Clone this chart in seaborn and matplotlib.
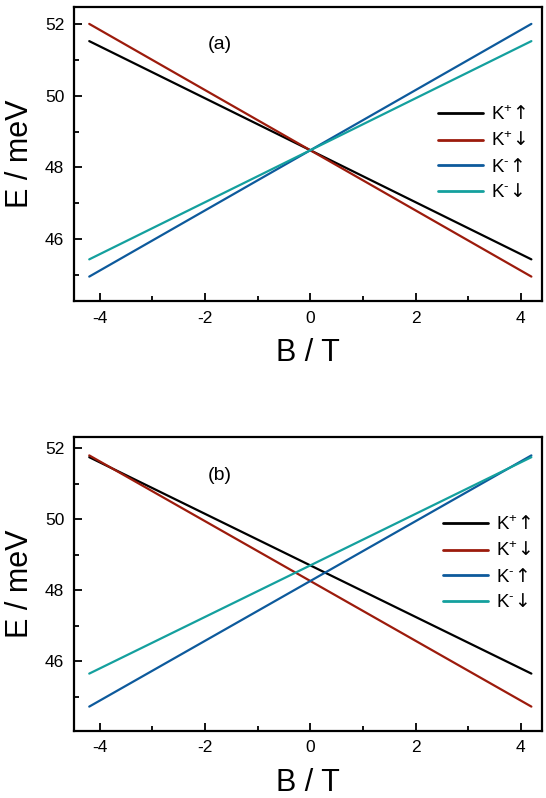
import matplotlib
matplotlib.use("Agg")
import matplotlib.pyplot as plt
import seaborn as sns
import pandas as pd
from matplotlib.ticker import MultipleLocator

# Magnetic field sweep (end points of each linear Zeeman branch)
field_T = [-4.2, 4.2]

# Panel (a): energies in meV at the two field end points
a_kp_up = [51.52, 45.44]
a_kp_dn = [52.00, 44.96]
a_km_up = [44.96, 52.00]
a_km_dn = [45.44, 51.52]

# Panel (b)
b_kp_up = [51.75, 45.65]
b_kp_dn = [51.80, 44.72]
b_km_up = [44.72, 51.80]
b_km_dn = [45.65, 51.75]

state_labels = [r"K$^{+}\!\mathsf{\uparrow}$", r"K$^{+}\!\mathsf{\downarrow}$",
                r"K$^{\text{-}}\!\mathsf{\uparrow}$", r"K$^{\text{-}}\!\mathsf{\downarrow}$"]
state_colors = ["#000000", "#9c1b0c", "#0d5a9c", "#14a09e"]
panel_tags = ["(a)", "(b)"]

sns.set_theme(style="ticks")
plt.rcParams["font.family"] = ["Liberation Sans", "DejaVu Sans"]
plt.rcParams["mathtext.fontset"] = "custom"
plt.rcParams["mathtext.rm"] = "Liberation Sans"
plt.rcParams["mathtext.it"] = "Liberation Sans"
plt.rcParams["mathtext.sf"] = "DejaVu Sans"
plt.rcParams["mathtext.default"] = "regular"
plt.rcParams["axes.unicode_minus"] = False
plt.rcParams["text.color"] = "black"
plt.rcParams["axes.labelcolor"] = "black"
plt.rcParams["xtick.color"] = "black"
plt.rcParams["ytick.color"] = "black"


def long_frame(series):
    rows = []
    for label, values in zip(state_labels, series):
        for b, e in zip(field_T, values):
            rows.append({"B": b, "E": e, "state": label})
    return pd.DataFrame(rows)


frames = [
    long_frame([a_kp_up, a_kp_dn, a_km_up, a_km_dn]),
    long_frame([b_kp_up, b_kp_dn, b_km_up, b_km_dn]),
]

fig = plt.figure(figsize=(5.46, 7.98), dpi=100)
ax_a = fig.add_axes([0.1355, 0.6228, 0.857, 0.3684])
ax_b = fig.add_axes([0.1355, 0.0843, 0.857, 0.3677])

settings = [
    (ax_a, frames[0], (44.28, 52.47), (0.777, 0.503)),
    (ax_b, frames[1], (44.04, 52.31), (0.788, 0.571)),
]

for (ax, df, ylim, leg_anchor), tag in zip(settings, panel_tags):
    sns.lineplot(data=df, x="B", y="E", hue="state", hue_order=state_labels,
                 palette=state_colors, linewidth=1.6, ax=ax)
    ax.set_xlim(-4.49, 4.40)
    ax.set_ylim(*ylim)
    ax.xaxis.set_major_locator(MultipleLocator(2))
    ax.xaxis.set_minor_locator(MultipleLocator(1))
    ax.yaxis.set_major_locator(MultipleLocator(2))
    ax.yaxis.set_minor_locator(MultipleLocator(1))
    ax.tick_params(which="both", direction="in", top=False, right=False,
                   width=1.3, labelsize=12.5, pad=7)
    ax.tick_params(which="major", length=6)
    ax.tick_params(which="minor", length=3.5)
    for spine in ax.spines.values():
        spine.set_visible(True)
        spine.set_linewidth(1.6)
        spine.set_color("black")
    ax.set_xlabel("B / T", fontsize=22, labelpad=9)
    ax.set_ylabel("E / meV", fontsize=22, labelpad=7)
    ax.text(0.312, 0.871, tag, transform=ax.transAxes, fontsize=14,
            ha="center", va="center")
    leg = ax.legend(loc="center left", bbox_to_anchor=leg_anchor,
                    frameon=False, fontsize=13.5, handlelength=2.4,
                    handletextpad=0.45, labelspacing=0.4,
                    borderpad=0, borderaxespad=0)
    for line in leg.get_lines():
        line.set_linewidth(2.0)

fig.savefig("out.png", dpi=100)
